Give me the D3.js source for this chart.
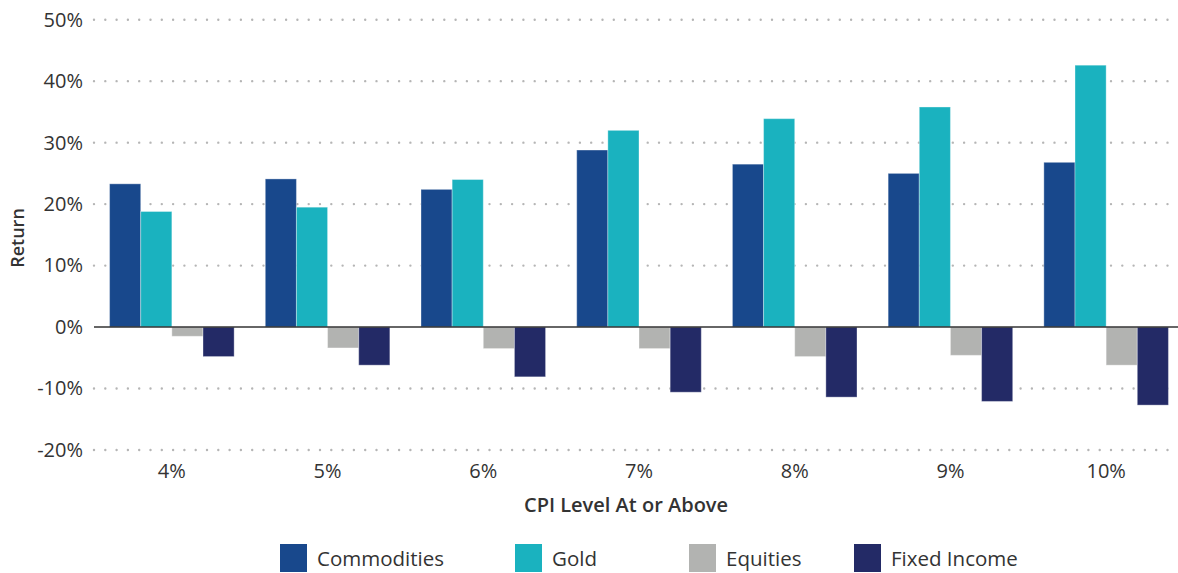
<!DOCTYPE html>
<html>
<head>
<meta charset="utf-8">
<script src="https://cdn.jsdelivr.net/npm/d3@7"></script>
<style>
	body { margin: 0; background: #fff; }
	text { font-family: "Open Sans", sans-serif; fill: #333; }
</style>
</head>
<body>
<div id="chart"></div>
<script>
// values, in %
var cpiLevels = ["4%", "5%", "6%", "7%", "8%", "9%", "10%"];
var seriesNames = ["Commodities", "Gold", "Equities", "Fixed Income"];
var commodities = [23.3, 24.1, 22.4, 28.8, 26.5, 25.0, 26.8];
var gold = [18.8, 19.5, 24.0, 32.0, 33.9, 35.8, 42.6];
var equities = [-1.5, -3.4, -3.5, -3.5, -4.8, -4.6, -6.2];
var fixedIncome = [-4.8, -6.2, -8.1, -10.6, -11.4, -12.1, -12.7];
var yTicks = [-20, -10, 0, 10, 20, 30, 40, 50];

var colors = ["#18488c", "#1ab2bf", "#b2b3b1", "#232a66"];
var allSeries = [commodities, gold, equities, fixedIncome];

var W = 1178, H = 573;
var svg = d3.select("#chart").append("svg")
	.attr("width", W)
	.attr("height", H);

var left = 94, right = 1178;

var y = d3.scaleLinear().domain([-20, 50]).range([450, 19.7]);
var x = d3.scaleBand().domain(cpiLevels).range([left, 1184]).paddingInner(0.2).paddingOuter(0.1);
var xs = d3.scaleBand().domain(seriesNames).range([0, x.bandwidth()]);

// dotted gridlines
svg.append("g")
	.selectAll("line")
	.data(yTicks.filter(function(d){ return d != 0; }))
	.enter().append("line")
	.attr("x1", left)
	.attr("x2", right)
	.attr("y1", function(d){ return y(d); })
	.attr("y2", function(d){ return y(d); })
	.attr("stroke", "#b5b5b5")
	.attr("stroke-width", 2.4)
	.attr("stroke-linecap", "round")
	.attr("stroke-dasharray", "0 11.3");

// y axis labels
var yAxis = d3.axisLeft(y).tickValues(yTicks).tickSize(0).tickPadding(0)
	.tickFormat(function(d){ return d + "%"; });
var gy = svg.append("g").attr("transform", "translate(83,0)").call(yAxis);
gy.select(".domain").remove();
gy.selectAll("text").style("font-size", "20px").attr("fill", "#333").attr("font-family", null);

// bars
var rows = cpiLevels.map(function(c, i){
	return seriesNames.map(function(s, j){ return {cat: c, name: s, value: allSeries[j][i], color: colors[j]}; });
});

svg.append("g")
	.selectAll("g")
	.data(rows)
	.enter().append("g")
	.attr("transform", function(d){ return "translate(" + x(d[0].cat) + ",0)"; })
	.selectAll("rect")
	.data(function(d){ return d; })
	.enter().append("rect")
	.attr("x", function(d){ return xs(d.name); })
	.attr("width", xs.bandwidth())
	.attr("y", function(d){ return Math.min(y(d.value), y(0)); })
	.attr("height", function(d){ return Math.abs(y(d.value) - y(0)); })
	.attr("fill", function(d){ return d.color; })
	.attr("stroke", "rgba(255,255,255,0.35)")
	.attr("stroke-width", 1);

// zero line
svg.append("line")
	.attr("x1", left)
	.attr("x2", right)
	.attr("y1", y(0))
	.attr("y2", y(0))
	.attr("stroke", "#333")
	.attr("stroke-width", 1.5);

// x axis labels
var xAxis = d3.axisBottom(x).tickSize(0).tickPadding(0);
var gx = svg.append("g").attr("transform", "translate(0,478)").call(xAxis);
gx.select(".domain").remove();
gx.selectAll("text").attr("dy", 0).style("font-size", "20px").attr("fill", "#333").attr("font-family", null);

// axis titles
svg.append("text")
	.attr("x", 626)
	.attr("y", 512)
	.attr("text-anchor", "middle")
	.style("font-size", "20px")
	.style("font-weight", 600)
	.text("CPI Level At or Above");

svg.append("text")
	.attr("transform", "translate(24,238) rotate(-90)")
	.attr("text-anchor", "middle")
	.style("font-size", "18px")
	.style("font-weight", 600)
	.text("Return");

// legend
var legendX = [280, 515, 689, 854];
var legend = svg.append("g")
	.selectAll("g")
	.data(seriesNames)
	.enter().append("g")
	.attr("transform", function(d, i){ return "translate(" + legendX[i] + ",544)"; });

legend.append("rect")
	.attr("width", 27)
	.attr("height", 28)
	.attr("fill", function(d, i){ return colors[i]; });

legend.append("text")
	.attr("x", 37)
	.attr("y", 22)
	.style("font-size", "20.5px")
	.text(function(d){ return d; });
</script>
</body>
</html>
